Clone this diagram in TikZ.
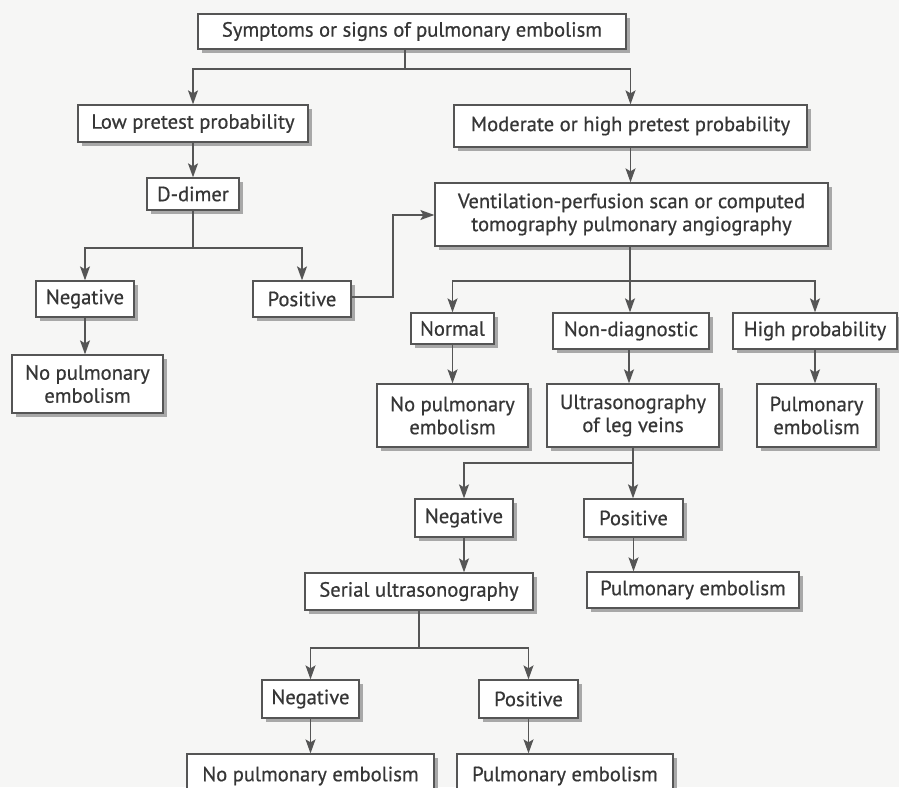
\documentclass[tikz,border=0pt]{standalone}
\usepackage{fontspec}
\setmainfont{PT Sans}[FakeBold=0.6]
\usetikzlibrary{arrows.meta,shadows}
\definecolor{paper}{HTML}{F6F6F5}
\definecolor{ink}{HTML}{363636}
\definecolor{edge}{HTML}{555555}
\definecolor{shade}{HTML}{A8A8A8}
\begin{document}
\begin{tikzpicture}[x=1pt,y=-1pt,
  box/.style={draw=edge, line width=1.3pt, fill=white, text=ink, inner sep=0pt,
    align=center, font=\fontsize{20.6}{23}\selectfont,
    drop shadow={shadow xshift=3.5pt, shadow yshift=-3.5pt, fill=shade, opacity=1}},
  link/.style={draw=edge, line width=1.3pt},
  arr/.style={link, -{Stealth[length=14pt,width=10pt,inset=3pt]}}]
% page
\path[use as bounding box, clip] (0,0) rectangle (899,787);
\fill[paper] (0,0) rectangle (899,787);

% boxes: centre, width, height taken from the layout grid
\newcommand{\flowbox}[6]{%
  \node[box, minimum width=#4pt, minimum height=#5pt] (#1) at (#2,#3) {#6};}

\flowbox{start}{412}{31.5}{428}{35}{Symptoms or signs of pulmonary embolism}
\flowbox{low}{193}{123.5}{230}{37}{Low pretest probability}
\flowbox{mod}{630.5}{126}{353}{42}{Moderate or high pretest probability}
\flowbox{ddim}{193}{194}{92}{32}{D-dimer}
\flowbox{neg1}{85}{299}{98}{36}{Negative}
\flowbox{pos1}{302}{299}{98}{36}{Positive}
\flowbox{nope1}{87.5}{384}{151}{58}{No pulmonary\\embolism}
\flowbox{vq}{631.5}{214.5}{393}{63}{Ventilation-perfusion scan or computed\\tomography pulmonary angiography}
\flowbox{normal}{452.5}{328.5}{83}{31}{Normal}
\flowbox{nondiag}{631}{331}{156}{36}{Non-diagnostic}
\flowbox{high}{815}{331}{164}{36}{High probability}
\flowbox{nope2}{452.5}{415.5}{151}{63}{No pulmonary\\embolism}
\flowbox{us}{633}{415.5}{172}{63}{Ultrasonography\\of leg veins}
\flowbox{pe1}{816.5}{415.5}{119}{63}{Pulmonary\\embolism}
\flowbox{neg2}{464}{518}{98}{38}{Negative}
\flowbox{pos2}{633.5}{518}{99}{38}{Positive}
\flowbox{serial}{419}{591.5}{228}{37}{Serial ultrasonography}
\flowbox{pe2}{693}{590}{212}{36}{Pulmonary embolism}
\flowbox{neg3}{310.5}{699}{97}{38}{Negative}
\flowbox{pos3}{528.5}{699}{99}{38}{Positive}
\flowbox{nope3}{310.5}{776}{247}{44}{No pulmonary embolism}
\flowbox{pe3}{565}{776}{216}{44}{Pulmonary embolism}

% branch points
\coordinate (j0) at (405,69);
\coordinate (j1) at (193,248);
\coordinate (j2) at (630,281);
\coordinate (j3) at (633,463);
\coordinate (j4) at (419,648);
\coordinate (kink) at (393,297);

% connectors
\draw[link] (start.south -| j0) -- (j0);
\draw[arr] (j0) -| (low.north);
\draw[arr] (j0) -| (mod.north);
\draw[arr] (low) -- (ddim);
\draw[arr] (mod.south) -- (mod.south |- vq.north);

\draw[link] (ddim.south) -- (j1);
\draw[arr] (j1) -| (neg1.north);
\draw[arr] (j1) -| (pos1.north);
\draw[arr] (neg1.south) -- (neg1.south |- nope1.north);
\draw[arr] (pos1.east |- kink) -- (kink) |- (vq.west |- 0,215);

\draw[link] (vq.south -| j2) -- (j2);
\draw[arr] (j2) -| (normal.north);
\draw[arr] (j2) -- (j2 |- nondiag.north);
\draw[arr] (j2) -| (high.north);
\draw[arr] (normal.south) -- (normal.south |- nope2.north);
\draw[arr] (nondiag.south -| 629,0) -- (629,0 |- us.north);
\draw[arr] (high.south) -- (high.south |- pe1.north);

\draw[link] (us.south -| j3) -- (j3);
\draw[arr] (j3) -| (neg2.north);
\draw[arr] (j3) -- (j3 |- pos2.north);
\draw[arr] (neg2.south) -- (neg2.south |- serial.north);
\draw[arr] (pos2.south) -- (pos2.south |- pe2.north);

\draw[link] (serial.south) -- (j4);
\draw[arr] (j4) -| (neg3.north);
\draw[arr] (j4) -| (pos3.north);
\draw[arr] (neg3.south) -- (neg3.south |- nope3.north);
\draw[arr] (pos3.south) -- (pos3.south |- pe3.north);
\end{tikzpicture}
\end{document}
